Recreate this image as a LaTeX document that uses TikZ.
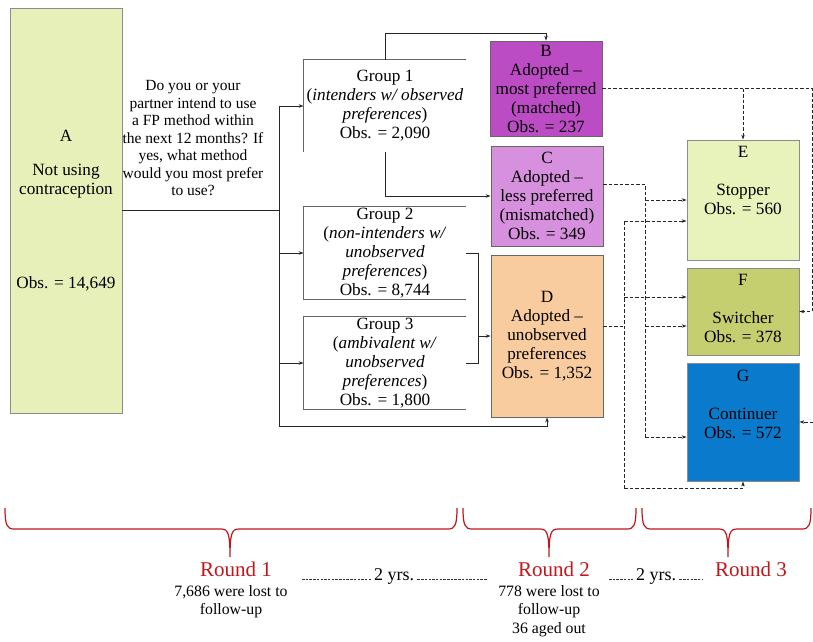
\documentclass[tikz,border=0pt]{standalone}
\usepackage{fontspec}
\setmainfont{Liberation Serif}
\usetikzlibrary{arrows.meta,positioning}

\definecolor{colA}{RGB}{231,240,185}
\definecolor{colB}{RGB}{188,76,196}
\definecolor{colC}{RGB}{214,144,221}
\definecolor{colD}{RGB}{248,204,158}
\definecolor{colE}{RGB}{232,243,188}
\definecolor{colF}{RGB}{198,207,112}
\definecolor{colG}{RGB}{10,122,204}
\definecolor{roundred}{RGB}{192,22,28}

\newcommand{\roundbrace}[3]{%
  \draw[brace] (#1,508) .. controls (#1,525) and (#1+2,529) .. (#1+9,529)
    -- (#2-9,529) .. controls (#2-2,529) and (#2,533) .. (#2,557)
    .. controls (#2,533) and (#2+2,529) .. (#2+9,529)
    -- (#3-9,529) .. controls (#3-2,529) and (#3,525) .. (#3,508);}

\begin{document}
\begin{tikzpicture}[x=1pt,y=-1pt,line width=0.8pt,
    every node/.style={font=\fontsize{17.2}{19}\selectfont,inner sep=0pt,align=center},
    stage/.style={draw=black!45,rectangle},
    group/.style={rectangle,minimum width=162,minimum height=92},
    frame/.style={draw=black!60,line width=0.7pt},
    conn/.style={draw=black!85},
    arr/.style={conn,-{Stealth[length=5pt,width=3.5pt]}},
    dsh/.style={conn,dash pattern=on 3.5pt off 2pt},
    darr/.style={dsh,-{Stealth[length=5pt,width=3.5pt]}},
    brace/.style={draw=roundred,line width=1.2pt},
    roundlbl/.style={text=roundred,font=\fontsize{21}{24}\selectfont},
    lossnote/.style={font=\fontsize{15.8}{18.5}\selectfont},
    yrsnote/.style={font=\fontsize{18}{20}\selectfont},
    yrsdash/.style={draw=black!80,line width=0.6pt,dash pattern=on 2.5pt off 1.2pt}]

  \useasboundingbox (0,0) rectangle (813,641);

  % round 1 states
  \node[stage,fill=colA,minimum width=112,minimum height=405] (A) at (66,210.5)
    {A\\[15pt]Not using\\contraception\\[75pt]Obs. = 14,649};
  \node[font=\fontsize{15.5}{17.5}\selectfont] (ask) at (193,138.5)
    {Do you or your\\partner intend to use\\a FP method within\\the next 12 months? If\\yes, what method\\would you most prefer\\to use?};

  \begin{scope}[every node/.append style={group}]
    \node (g1) at (385,106) {Group 1\\(\textit{intenders w/ observed}\\\textit{preferences})\\Obs. = 2,090};
    \node (g2) at (385,253) {Group 2\\(\textit{non-intenders w/}\\\textit{unobserved}\\\textit{preferences})\\Obs. = 8,744};
    \node (g3) at (385,363) {Group 3\\(\textit{ambivalent w/}\\\textit{unobserved}\\\textit{preferences})\\Obs. = 1,800};
  \end{scope}
  \draw[frame] (g1.north east) -- (g1.north west) -- (g1.south west);
  \draw[frame] (g2.north east) -- (g2.north west) -- (g2.south west) -- (g2.south east);
  \draw[frame] (g3.north east) -- (g3.north west) -- (g3.south west) -- (g3.south east);

  % round 2 states
  \begin{scope}[every node/.append style={stage,draw=black!60,minimum width=112}]
    \node[fill=colB,minimum height=95] (B) at (546,88.5)
      {B\\Adopted --\\most preferred\\(matched)\\Obs. = 237};
    \node[fill=colC,minimum height=100] (C) at (547,196)
      {C\\Adopted --\\less preferred\\(mismatched)\\Obs. = 349};
    \node[fill=colD,minimum height=162] (D) at (547,336)
      {D\\Adopted --\\unobserved\\preferences\\Obs. = 1,352};
  \end{scope}

  % round 3 states
  \begin{scope}[every node/.append style={stage,minimum width=112}]
    \node[fill=colE,minimum height=120] (E) at (743,200) {};
    \node[fill=colF,minimum height=87] (F) at (743,311.5) {};
    \node[fill=colG,minimum height=118] (G) at (743,422) {};
  \end{scope}
  \node[anchor=north,below=6pt of E.north] (Etxt) {E\\[19pt]Stopper\\Obs. = 560};
  \node[anchor=north,below=6pt of F.north] (Ftxt) {F\\[19pt]Switcher\\Obs. = 378};
  \node[anchor=north,below=7pt of G.north] (Gtxt) {G\\[19pt]Continuer\\Obs. = 572};

  % solid connectors
  \coordinate (split) at (279,210.5);
  \coordinate (t1) at (279,106);
  \coordinate (t4) at (279,426);
  \coordinate (b1) at (385,33);
  \coordinate (j2) at (478,253);
  \coordinate (j3) at (478,363);
  \coordinate (jd) at (478,336);
  \draw[conn] (A.east) -- (split);
  \draw[conn] (t1) -- (t4);
  \draw[arr] (t1) -- (g1);
  \draw[arr] (split |- g2) -- (g2);
  \draw[arr] (split |- g3) -- (g3);
  \draw[arr] (t4) -| (D.south);
  \draw[arr] (g1.north) -- (b1) -| (B.north);
  \draw[arr] (g1.south) |- (C);
  \draw[conn] (g2.east) -- (j2) -- (j3) -- (g3.east);
  \draw[arr] (jd) -- (D);

  % dashed transitions
  \coordinate (r1) at (812,88.5);
  \coordinate (r2) at (812,311.5);
  \coordinate (rg) at (813,422);
  \coordinate (c0) at (603,184);
  \coordinate (c1) at (645,184);
  \coordinate (c2) at (645,437);
  \coordinate (d0) at (603,326);
  \coordinate (d1) at (624,326);
  \coordinate (d2) at (624,221);
  \coordinate (d3) at (624,488);
  \draw[darr] (B.east) -- (r1) -- (r2) -- (F.east);
  \draw[darr] (E.north |- r1) -- (E.north);
  \draw[darr] (rg) -- (G.east);
  \draw[dsh] (c0) -- (c1) -- (c2);
  \draw[darr] (c1 |- E) -- (E);
  \draw[darr] (c1 |- d1) -- (F.west |- d1);
  \draw[darr] (c2) -- (G.west |- c2);
  \draw[dsh] (d0) -- (d1);
  \draw[dsh] (d2) -- (d3);
  \draw[darr] (d2) -- (E.west |- d2);
  \draw[darr] (624,297) -- (F.west |- 0,297);
  \draw[darr] (d3) -| (G.south);

  % rounds
  \roundbrace{5}{230}{457}
  \roundbrace{463}{549}{636}
  \roundbrace{642}{728}{811}
  \node[roundlbl] (R1) at (236,569) {Round 1};
  \node[roundlbl] (R2) at (554,569) {Round 2};
  \node[roundlbl] (R3) at (751,569) {Round 3};
  \node[lossnote,anchor=north] (L1) at (231,585) {7,686 were lost to\\follow-up};
  \node[lossnote,anchor=north] (L2) at (549,585) {778 were lost to\\follow-up\\36 aged out};
  \node[yrsnote] (Y1) at (394,576) {2 yrs.};
  \node[yrsnote] (Y2) at (656,576) {2 yrs.};
  \coordinate (y1l) at (302,579);
  \coordinate (y1r) at (487,579);
  \coordinate (y2l) at (609,579);
  \coordinate (y2r) at (703,579);
  \draw[yrsdash] (y1l) -- ([xshift=-3pt]Y1.west |- y1l);
  \draw[yrsdash] ([xshift=3pt]Y1.east |- y1r) -- (y1r);
  \draw[yrsdash] (y2l) -- ([xshift=-3pt]Y2.west |- y2l);
  \draw[yrsdash] ([xshift=3pt]Y2.east |- y2r) -- (y2r);
\end{tikzpicture}
\end{document}
